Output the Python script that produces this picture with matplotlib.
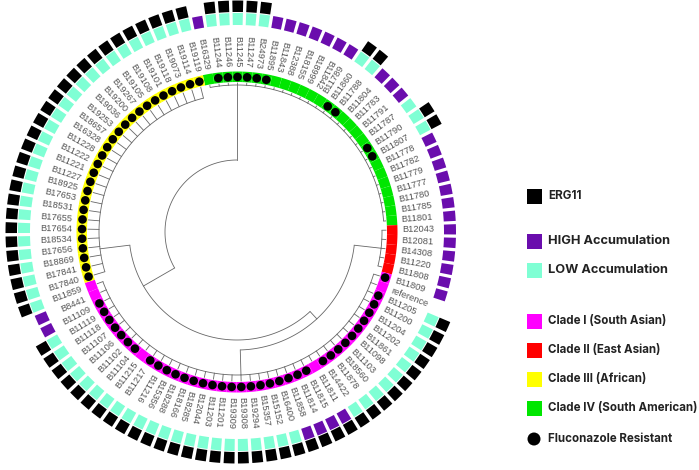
import numpy as np
import matplotlib
matplotlib.use("Agg")
import matplotlib.pyplot as plt
from matplotlib.patches import Wedge, Rectangle, Circle

# ---------------- data ----------------
clade_iv = ["B16329", "B11244", "B11246", "B11245", "B11247", "B24973", "B11895",
            "B11843", "B12388", "B18155", "B18999", "B11842", "B11789", "B11860",
            "B11788", "B11804", "B11783", "B11791", "B11787", "B11790", "B11807",
            "B11778", "B11782", "B11779", "B11777", "B11780", "B11785", "B11801"]
clade_ii = ["B12043", "B12081", "B14308", "B11220", "B11808"]
clade_i = ["B11809", "reference", "B11205", "B11200", "B11204", "B11202", "B11861",
           "B11098", "B11103", "B18560", "B11878", "B14422", "B11811", "B11815",
           "B11814", "B11858", "B16400", "B15152", "B15357", "B19294", "B19308",
           "B19309", "B11201", "B11203", "B12044", "B18285", "B18166", "B18288",
           "B15356", "B11216", "B11217", "B11215", "B11104", "B11102", "B11106",
           "B11107", "B11118", "B11119", "B11109", "B8441", "B11859"]
clade_iii = ["B17840", "B17841", "B18869", "B17656", "B18534", "B17654", "B17655",
             "B18531", "B17653", "B18925", "B11227", "B11221", "B11222", "B11228",
             "B16328", "B18657", "B19253", "B19036", "B19200", "B19267", "B19105",
             "B19108", "B19101", "B19118", "B19073", "B19114", "B19119"]

high_accumulation = ["B16329", "B11895", "B11843", "B12388", "B18155", "B18999",
                     "B11842", "B11789", "B11804", "B11783", "B11791", "B11778",
                     "B11782", "B11779", "B11777", "B11780", "B11785", "B11801",
                     "B12043", "B12081", "B14308", "B11220", "B11808", "B11809",
                     "B11858", "B11814", "B11815", "B11811", "B8441", "B11109"]
no_accumulation_data = ["reference"]

erg11_tips = (clade_iii
              + ["B11244", "B11246", "B11245", "B11247", "B24973",
                 "B11860", "B11788", "B11790", "B11807"]
              + [t for t in clade_i if t not in ("B11809", "reference", "B8441", "B11109")])

resistant_tips = (clade_iii
                  + ["B11244", "B11246", "B11245", "B11247", "B24973", "B11895",
                     "B11860", "B11788", "B11790", "B11807"]
                  + [t for t in clade_i if t not in ("reference", "B11811", "B11215",
                                                     "B8441", "B11859")])

clade_names = ["Clade I (South Asian)", "Clade II (East Asian)",
               "Clade III (African)", "Clade IV (South American)"]
clade_colors = {"I": "#FF00FF", "II": "#FF0000", "III": "#FFFF00", "IV": "#00E600"}
HIGH_COLOR = "#6A0DAD"
LOW_COLOR = "#7FFFD4"

# ---------------- layout ----------------
tips = clade_iv + clade_ii + clade_i + clade_iii
clade_of = {}
for t in clade_iv: clade_of[t] = "IV"
for t in clade_ii: clade_of[t] = "II"
for t in clade_i: clade_of[t] = "I"
for t in clade_iii: clade_of[t] = "III"

n = len(tips)
step = 360.0 / n
start = 100.5
ang = {t: start - i * step for i, t in enumerate(tips)}

fig = plt.figure(figsize=(6.99, 4.70), dpi=100)
ax = fig.add_axes([0, 0, 1, 1])
ax.set_xlim(-237, 462)
ax.set_ylim(-238, 232)
ax.set_aspect("equal")
ax.axis("off")

def pol(r, th):
    t = np.deg2rad(th)
    return r * np.cos(t), r * np.sin(t)

LW = 0.6
LC = "#666666"

def arc(r, a1, a2):
    th = np.linspace(a1, a2, 100)
    x, y = pol(r, th)
    ax.plot(x, y, color=LC, lw=LW, solid_capstyle="butt")

def radial(r1, r2, th):
    x1, y1 = pol(r1, th)
    x2, y2 = pol(r2, th)
    ax.plot([x1, x2], [y1, y2], color=LC, lw=LW)

R_TIP = 149
clade_nodes = {"IV": (147, 90.0, clade_iv), "II": (145, None, clade_ii),
               "I": (143, None, clade_i), "III": (138, 187.0, clade_iii)}
node_angle = {}
for c, (rc, th, members) in clade_nodes.items():
    a = [ang[m] for m in members]
    arc(rc, min(a), max(a))
    for m in members:
        radial(rc, R_TIP, ang[m])
    node_angle[c] = th if th is not None else (min(a) + max(a)) / 2

# backbone (approximate)
radial(72, 147, node_angle["IV"])
radial(108, 138, node_angle["III"])
radial(118, 143, node_angle["I"])
radial(118, 145, node_angle["II"])
arc(118, node_angle["I"], node_angle["II"])
mid12 = (node_angle["I"] + node_angle["II"]) / 2
radial(108, 118, mid12)
arc(108, mid12, -173)
mid123 = -150
radial(72, 108, mid123)
arc(72, mid123 + 360, node_angle["IV"])

# coloured clade ring
for t in tips:
    a = ang[t]
    ax.add_patch(Wedge((0, 0), 160.5, a - step / 2, a + step / 2, width=10.5,
                       facecolor=clade_colors[clade_of[t]], edgecolor="none"))

# resistant dots
for t in resistant_tips:
    x, y = pol(155, ang[t])
    ax.add_patch(Circle((x, y), 4.3, facecolor="black", edgecolor="none", zorder=5))

# labels
for t in tips:
    a = ang[t]
    x, y = pol(165, a)
    a360 = a % 360
    outward = (a360 < 59.5) or (a360 > 239.5)
    if outward:
        ax.text(x, y, t, rotation=a, ha="left", va="center", rotation_mode="anchor",
                fontsize=6.7, color="#555555", family="Liberation Sans")
    else:
        ax.text(x, y, t, rotation=a + 180, ha="right", va="center",
                rotation_mode="anchor", fontsize=6.7, color="#555555",
                family="Liberation Sans")

# accumulation ring and ERG11 ring
gap = step * 0.12
for t in tips:
    a = ang[t]
    if t not in no_accumulation_data:
        col = HIGH_COLOR if t in high_accumulation else LOW_COLOR
        ax.add_patch(Wedge((0, 0), 219, a - step / 2 + gap, a + step / 2 - gap,
                           width=12, facecolor=col, edgecolor="none"))
    if t in erg11_tips:
        ax.add_patch(Wedge((0, 0), 231.5, a - step / 2 + gap, a + step / 2 - gap,
                           width=11.5, facecolor="black", edgecolor="none"))

# ---------------- legend ----------------
def px(xp, yp):
    return xp - 237, 232 - yp

LFONT = "Inter"
sq = 15
legend_items = [
    ("ERG11", "black", 196, 8.4),
    ("HIGH Accumulation", HIGH_COLOR, 241, 9.2),
    ("LOW Accumulation", LOW_COLOR, 270, 9.2),
    (clade_names[0], clade_colors["I"], 321, 8.3),
    (clade_names[1], clade_colors["II"], 350, 8.3),
    (clade_names[2], clade_colors["III"], 379, 8.3),
    (clade_names[3], clade_colors["IV"], 408, 8.3),
]
for label, col, yc, fs in legend_items:
    x0, y0 = px(527, yc + sq / 2)
    ax.add_patch(Rectangle((x0, y0), sq, sq, facecolor=col, edgecolor="none"))
    tx, ty = px(548, yc)
    ax.text(tx, ty, label, ha="left", va="center", fontsize=fs, fontweight="bold",
            color="#222222", family=LFONT)

cx, cy = px(534, 439)
ax.add_patch(Circle((cx, cy), 6.5, facecolor="black", edgecolor="none"))
tx, ty = px(548, 439)
ax.text(tx, ty, "Fluconazole Resistant", ha="left", va="center", fontsize=8.3,
        fontweight="bold", color="#222222", family=LFONT)

fig.savefig("out.png", dpi=100)
